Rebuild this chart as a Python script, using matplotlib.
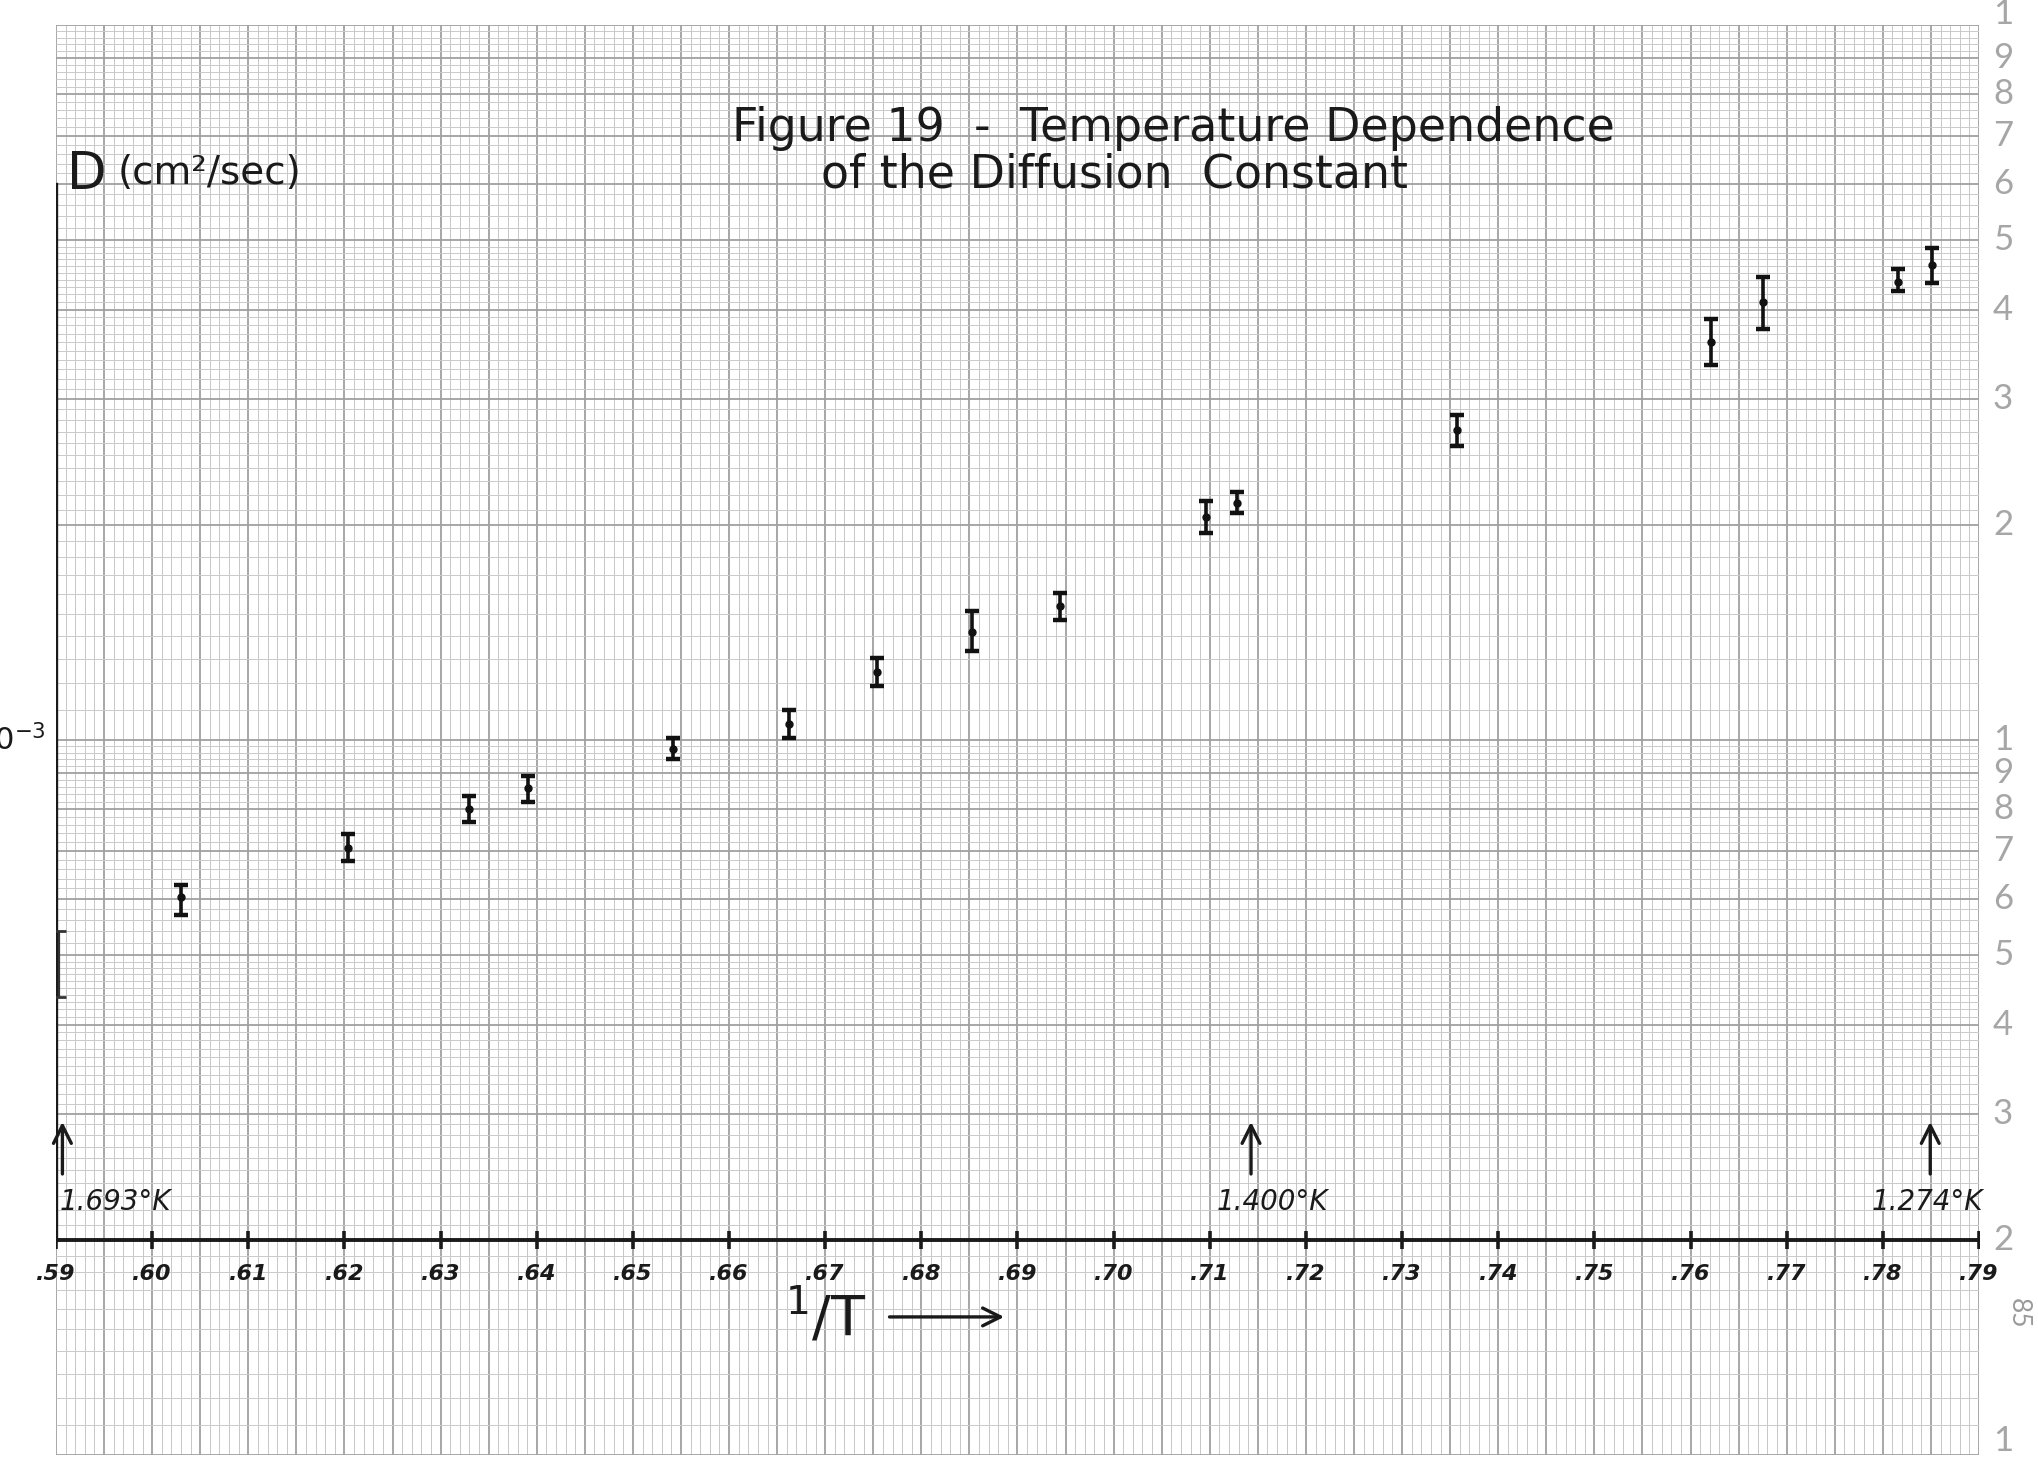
import numpy as np
import matplotlib
matplotlib.use('Agg')
import matplotlib.pyplot as plt

# 1/T and diffusion constant D (cm^2/sec)
inv_T = [0.5903, 0.6030, 0.6204, 0.6330, 0.6391, 0.6542, 0.6662, 0.6754, 0.6853,
         0.6944, 0.7096, 0.7128, 0.7357, 0.7621, 0.7675, 0.7816, 0.7851]
D = [4.89e-4, 6.03e-4, 7.07e-4, 8.02e-4, 8.57e-4, 9.72e-4, 1.052e-3, 1.245e-3, 1.417e-3,
     1.541e-3, 2.053e-3, 2.143e-3, 2.711e-3, 3.605e-3, 4.104e-3, 4.375e-3, 4.617e-3]
D_hi = [5.41e-4, 6.26e-4, 7.38e-4, 8.36e-4, 8.90e-4, 1.005e-3, 1.102e-3, 1.303e-3, 1.515e-3,
        1.607e-3, 2.161e-3, 2.225e-3, 2.851e-3, 3.886e-3, 4.444e-3, 4.553e-3, 4.872e-3]
D_lo = [4.37e-4, 5.69e-4, 6.78e-4, 7.69e-4, 8.19e-4, 9.40e-4, 1.005e-3, 1.189e-3, 1.331e-3,
        1.472e-3, 1.946e-3, 2.075e-3, 2.578e-3, 3.343e-3, 3.758e-3, 4.250e-3, 4.361e-3]

x_ticks = [0.59, 0.60, 0.61, 0.62, 0.63, 0.64, 0.65, 0.66, 0.67, 0.68, 0.69,
           0.70, 0.71, 0.72, 0.73, 0.74, 0.75, 0.76, 0.77, 0.78, 0.79]
x_tick_labels = ['.59', '.60', '.61', '.62', '.63', '.64', '.65', '.66', '.67', '.68', '.69',
                 '.70', '.71', '.72', '.73', '.74', '.75', '.76', '.77', '.78', '.79']

# temperatures marked with arrows (°K)
marked_T = [1.693, 1.400, 1.274]
marked_labels = ['1.693°K', '1.400°K', '1.274°K']

# printed labels of the 2-cycle log paper
paper_values = [1e-2, 9e-3, 8e-3, 7e-3, 6e-3, 5e-3, 4e-3, 3e-3, 2e-3,
                1e-3, 9e-4, 8e-4, 7e-4, 6e-4, 5e-4, 4e-4, 3e-4, 2e-4, 1e-4]
paper_labels = ['1', '9', '8', '7', '6', '5', '4', '3', '2',
                '1', '9', '8', '7', '6', '5', '4', '3', '2', '1']

W, H = 2038, 1470
fig = plt.figure(figsize=(W / 100, H / 100), dpi=100)
fig.patch.set_facecolor('white')
ax = fig.add_axes([56 / W, 1 - 1455 / H, (1979 - 56) / W, 1430 / H])
ax.set_yscale('log')
ax.set_xlim(0.59, 0.79)
ax.set_ylim(1e-4, 1e-2)
ax.axis('off')

# graph paper
xs = np.arange(590, 791)
ax.vlines(xs[xs % 5 != 0] / 1000, 1e-4, 1e-2, colors='#c8c8c8', lw=0.7, zorder=1)
ax.vlines(xs[xs % 5 == 0] / 1000, 1e-4, 1e-2, colors='#a0a0a0', lw=1.3, zorder=1)
fine_m = np.concatenate([np.arange(11, 50) / 10, np.arange(52, 100, 2) / 10])
fine_m = fine_m[np.abs(fine_m - np.round(fine_m)) > 1e-6]
for dec in (1e-4, 1e-3):
    ax.hlines(fine_m * dec, 0.59, 0.79, colors='#cacaca', lw=0.7, zorder=1)
    ax.hlines(np.arange(1, 10) * dec, 0.59, 0.79, colors='#a0a0a0', lw=1.3, zorder=1)
ax.hlines([1e-2], 0.59, 0.79, colors='#a0a0a0', lw=1.3, zorder=1)

for i, (v, lab) in enumerate(zip(paper_values, paper_labels)):
    yy = v
    if i == 0:
        yy = v * 1.035
    elif i == len(paper_values) - 1:
        yy = v * 1.045
    ax.text(0.7925, yy, lab, ha='center', va='center', fontsize=25, color='#a6a6a6',
            family=['Lato', 'DejaVu Sans'], clip_on=False)
ax.text(0.7941, 1.58e-4, '85', ha='center', va='center', fontsize=19, color='#9a9a9a',
        family=['Lato', 'DejaVu Sans'], rotation=-90, clip_on=False)

# hand-drawn axes
ax.plot([0.59, 0.79], [2e-4, 2e-4], color='#1a1a1a', lw=2.8, zorder=3)
ax.plot([0.59, 0.59], [2e-4, 6.0e-3], color='#1a1a1a', lw=2.4, zorder=3)
ax.plot(x_ticks, [2e-4] * len(x_ticks), ls='none', marker='|', ms=13, mew=2.6,
        color='#1a1a1a', zorder=3)
for xt, lab in zip(x_ticks, x_tick_labels):
    ax.text(xt, 1.79e-4, lab, ha='center', va='center', fontsize=16, fontweight='bold',
            fontstyle='italic', color='#1a1a1a', clip_on=False)

# data with error bars
yerr = [np.array(D) - np.array(D_lo), np.array(D_hi) - np.array(D)]
ax.errorbar(inv_T[1:], D[1:], yerr=[yerr[0][1:], yerr[1][1:]], fmt='o', ms=5,
            color='#111111', ecolor='#111111', elinewidth=2.6, capsize=5, capthick=3.2,
            zorder=4)
ax.errorbar(inv_T[:1], D[:1], yerr=[yerr[0][:1], yerr[1][:1]], fmt='none',
            ecolor='#333333', elinewidth=1.6, capsize=5, capthick=2.0, zorder=4)

# temperature markers
for T, lab, ha in zip(marked_T, marked_labels, ['left', 'center', 'right']):
    x = 1 / T
    ax.annotate('', xy=(x, 2.95e-4), xytext=(x, 2.45e-4),
                arrowprops=dict(arrowstyle='->', lw=2.4, color='#1a1a1a', mutation_scale=32))
    tx = {'left': x - 0.0003, 'center': x + 0.0022, 'right': x + 0.0055}[ha]
    ax.text(tx, 2.26e-4, lab, ha=ha, va='center', fontsize=20, fontstyle='italic',
            color='#1a1a1a', clip_on=False)

# labels and title
ax.text(0.5911, 6.16e-3, 'D', ha='left', va='center', fontsize=37, color='#1a1a1a')
ax.text(0.5964, 6.21e-3, '(cm²/sec)', ha='left', va='center', fontsize=28, color='#1a1a1a')
ax.text(0.58896, 1e-3, '10$^{-3}$', ha='right', va='center', fontsize=22, color='#1a1a1a',
        clip_on=False)
ax.text(0.7062, 7.17e-3, 'Figure 19  -  Temperature Dependence', ha='center', va='center',
        fontsize=33, color='#1a1a1a')
ax.text(0.7001, 6.17e-3, 'of the Diffusion  Constant', ha='center', va='center',
        fontsize=33, color='#1a1a1a')
ax.text(0.6701, 1.56e-4, '$^1$/T', ha='center', va='center', fontsize=40, color='#1a1a1a')
ax.annotate('', xy=(0.6889, 1.56e-4), xytext=(0.6764, 1.56e-4),
            arrowprops=dict(arrowstyle='->', lw=2.4, color='#1a1a1a', mutation_scale=32))

fig.savefig('out.png', dpi=100, facecolor='white')
